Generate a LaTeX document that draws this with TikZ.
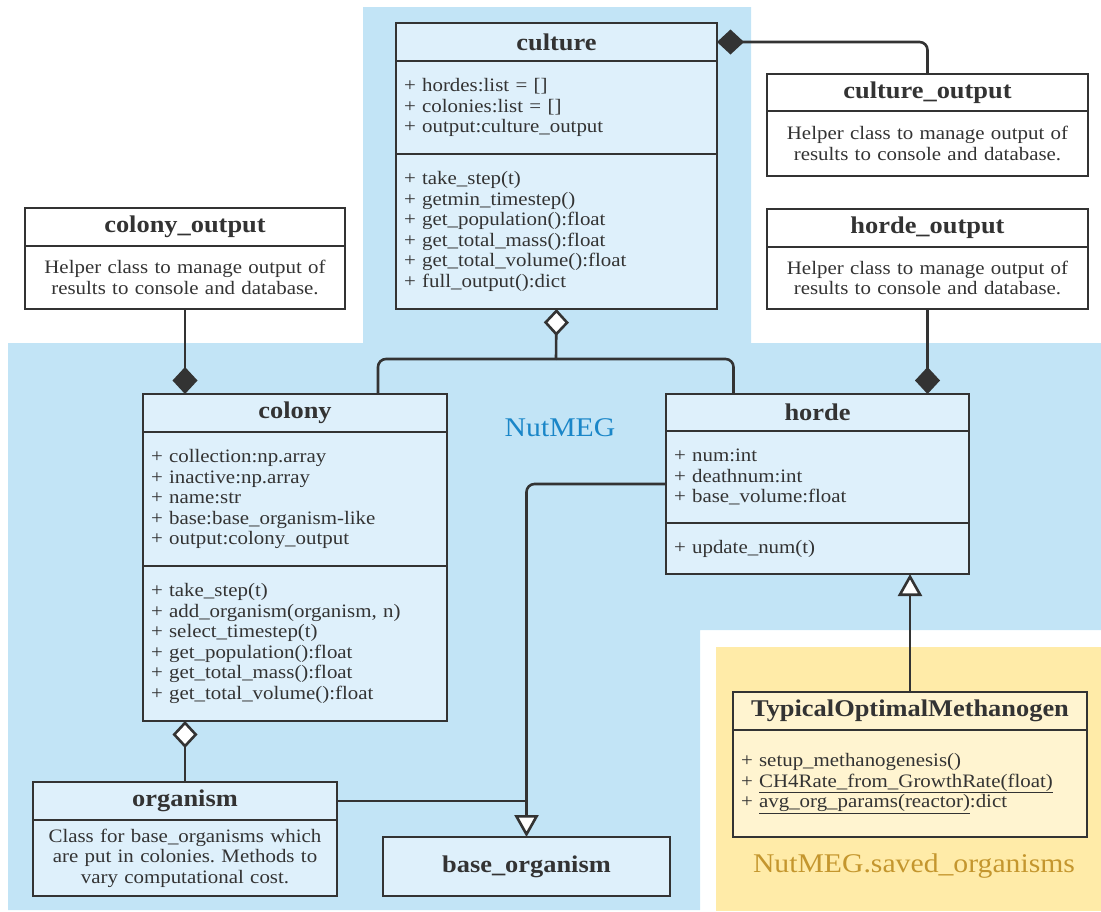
\documentclass[tikz,border=0pt]{standalone}
\usepackage{fontspec}
\setmainfont{Liberation Serif}[FakeStretch=1.1]
\usetikzlibrary{arrows.meta, positioning}
\definecolor{nutblue}{HTML}{C2E4F6}
\definecolor{boxblue}{HTML}{DEF0FB}
\definecolor{savedyellow}{HTML}{FFEBA8}
\definecolor{boxyellow}{HTML}{FFF4D0}
\definecolor{linegray}{HTML}{333333}
\definecolor{labelblue}{HTML}{1A86C8}
\definecolor{labelgold}{HTML}{C4962E}
\newcommand{\bodyfont}{\fontsize{19}{20.5}\selectfont}
\newcommand{\titlefont}{\fontsize{24}{26}\selectfont\bfseries}
\frenchspacing
\tikzset{
  part/.style={draw=linegray, line width=2.6pt, anchor=north west, outer sep=0pt, inner xsep=8pt, inner ysep=1pt, text=linegray, text width=#1},
  titlepart/.style={part=#1, font=\titlefont, align=center},
  listpart/.style={part=#1, font=\bodyfont, align=left},
  notepart/.style={part=#1, font=\bodyfont, align=center},
  link/.style={draw=linegray, line width=2.6pt, rounded corners=8pt},
  compose/.style={-{Diamond[length=27pt, width=25pt]}},
  aggregate/.style={-{Diamond[length=27pt, width=25pt, fill=white]}},
  inherit/.style={-{Triangle[length=22pt, width=24pt, fill=white]}}
}

\begin{document}
\begin{tikzpicture}[x=1pt, y=-1pt]
    \useasboundingbox (0,0) rectangle (1101,911);
    \fill[nutblue] (363,7) -- (751,7) -- (751,343) -- (1101,343) -- (1101,630) -- (700,630)
                   -- (700,910) -- (8,910) -- (8,343) -- (363,343) -- cycle;
    \fill[savedyellow] (716,647) rectangle (1101,911);

    \node[font=\fontsize{27}{30}\selectfont, text=labelblue] (nutmeg) at (560,428) {NutMEG};
    \node[font=\fontsize{27}{30}\selectfont, text=labelgold] (saved) at (914,866) {NutMEG.saved\_organisms};

    \node[titlepart=305pt, fill=boxblue, minimum height=38pt] (cult) at (396,23) {culture};
    \node[listpart=305pt, fill=boxblue, minimum height=93pt] (cult-a) at (cult.south west)
          {+ hordes:list = []\\+ colonies:list = []\\+ output:culture\_output};
    \node[listpart=305pt, fill=boxblue, minimum height=155pt] (cult-m) at (cult-a.south west)
          {+ take\_step(t)\\+ getmin\_timestep()\\+ get\_population():float\\+ get\_total\_mass():float\\+ get\_total\_volume():float\\+ full\_output():dict};

    \node[titlepart=305pt, fill=white, minimum height=37pt] (cout) at (767,74) {culture\_output};
    \node[notepart=305pt, fill=white, minimum height=65pt] (cout-d) at (cout.south west)
          {Helper class to manage output of\\results to console and database.};

    \node[titlepart=304pt, fill=white, minimum height=38pt] (colout) at (25,208) {colony\_output};
    \node[notepart=304pt, fill=white, minimum height=63pt] (colout-d) at (colout.south west)
          {Helper class to manage output of\\results to console and database.};

    \node[titlepart=305pt, fill=white, minimum height=38pt] (hout) at (767,209) {horde\_output};
    \node[notepart=305pt, fill=white, minimum height=62pt] (hout-d) at (hout.south west)
          {Helper class to manage output of\\results to console and database.};

    \node[titlepart=288pt, fill=boxblue, minimum height=38pt] (col) at (143,394) {colony};
    \node[listpart=288pt, fill=boxblue, minimum height=134pt] (col-a) at (col.south west)
          {+ collection:np.array\\+ inactive:np.array\\+ name:str\\+ base:base\_organism-like\\+ output:colony\_output};
    \node[listpart=288pt, fill=boxblue, minimum height=155pt] (col-m) at (col-a.south west)
          {+ take\_step(t)\\+ add\_organism(organism, n)\\+ select\_timestep(t)\\+ get\_population():float\\+ get\_total\_mass():float\\+ get\_total\_volume():float};

    \node[titlepart=287pt, fill=boxblue, minimum height=37pt] (hor) at (666,394) {horde};
    \node[listpart=287pt, fill=boxblue, minimum height=92pt] (hor-a) at (hor.south west)
          {+ num:int\\+ deathnum:int\\+ base\_volume:float};
    \node[listpart=287pt, fill=boxblue, minimum height=51pt] (hor-m) at (hor-a.south west)
          {+ update\_num(t)};

    \node[titlepart=288pt, fill=boxblue, minimum height=38pt] (org) at (33,782) {organism};
    \node[notepart=288pt, fill=boxblue, minimum height=76pt] (org-d) at (org.south west)
          {Class for base\_organisms which\\are put in colonies. Methods to\\vary computational cost.};

    \node[titlepart=271pt, fill=boxblue, minimum height=59pt] (base) at (383,837) {base\_organism};

    \node[titlepart=338pt, fill=boxyellow, minimum height=38pt] (tom) at (733,692) {TypicalOptimalMethanogen};
    \node[listpart=338pt, fill=boxyellow, minimum height=107pt] (tom-m) at (tom.south west)
          {+ setup\_methanogenesis()\\+ \underline{CH4Rate\_from\_GrowthRate(float)}\\+ \underline{avg\_org\_params(reactor)}:dict};

    \coordinate (split) at (556,359);

    \draw [link, compose]   (cout.north) |- (cult.east);
    \draw [link, compose]   (colout-d.south) -- (colout-d.south |- col.north);
    \draw [link, compose]   (hout-d.south) -- (hout-d.south |- hor.north);
    \draw [link, aggregate] (split) -- (cult-m.south);
    \draw [link]            (split) -| ([xshift=83pt]col.north);
    \draw [link]            (split) -| ([xshift=-84pt]hor.north);
    \draw [link, aggregate] (org.north) -- (org.north |- col-m.south);
    \draw [link, inherit]   ([yshift=-7pt]hor-a.west) -| (base.north);
    \draw [link]            (org.east) -- (org.east -| base.north);
    \draw [link, inherit]   (tom.north) -- (tom.north |- hor-m.south);
\end{tikzpicture}
\end{document}
